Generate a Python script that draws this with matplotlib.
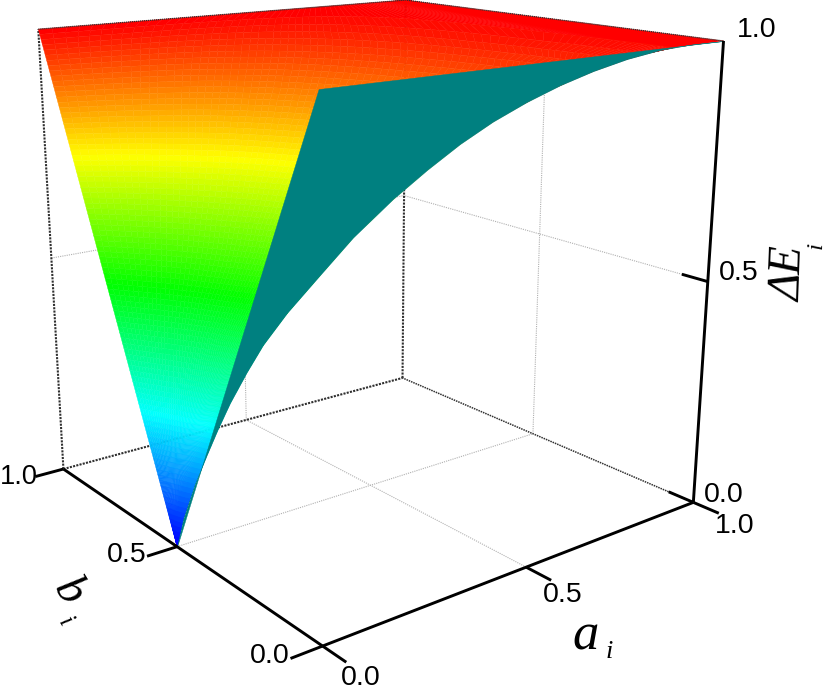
import numpy as np
import matplotlib
matplotlib.use("Agg")
import matplotlib.pyplot as plt
from matplotlib.colors import LinearSegmentedColormap
from mpl_toolkits.mplot3d.art3d import Poly3DCollection

W, H = 825, 691

# --- data: the crease of the surface
a_crease = [0.0, 0.013, 0.036, 0.059, 0.079, 0.103, 0.134, 0.164, 0.208, 0.267, 0.327,
            0.398, 0.459, 0.518, 0.577, 0.638, 0.698, 0.758, 0.82, 0.881, 0.942, 1.0]
b_crease = [0.5, 0.494, 0.482, 0.47, 0.46, 0.449, 0.433, 0.418, 0.396, 0.367, 0.337,
            0.301, 0.27, 0.241, 0.212, 0.181, 0.151, 0.121, 0.09, 0.06, 0.029, 0.0]
z_crease = [0.0, 0.06, 0.135, 0.197, 0.248, 0.303, 0.366, 0.421, 0.485, 0.558, 0.632,
            0.706, 0.762, 0.811, 0.853, 0.890, 0.921, 0.947, 0.969, 0.985, 0.995, 1.0]
tick_values = [0.0, 0.5, 1.0]
tick_labels = ["0.0", "0.5", "1.0"]
rainbow = ["#0000ff", "#00ffff", "#00ff00", "#ffff00", "#ff0000"]
teal = "#008080"
n_bands = 96

# --- camera: box points and where they appear (pixels)
cam_world = [(0, 0, 0), (1, 0, 0), (0, 1, 0), (1, 1, 0), (1, 0, 1), (0, 1, 1), (1, 1, 1),
             (0, 0.5, 0), (0.5, 0, 0), (1, 0, 0.5), (0, 0, 1)]
cam_pixel = [(323, 646), (693, 502), (63, 469), (403, 378), (724, 41), (39, 29), (405, 0),
             (177, 547), (526, 567), (708, 282), (318, 89)]

fig = plt.figure(figsize=(W / 100, H / 100), dpi=100)
ax = fig.add_axes([0, -(W - H) / 2 / H, 1, W / H], projection="3d", computed_zorder=False)
ax.set_axis_off()
ax.set_proj_type("ortho")
ax.apply_aspect()
fig.canvas.draw()
inv = ax.transData.inverted()


def fit_camera(world, pixel):
    uv = inv.transform([(p[0], H - p[1]) for p in pixel])
    rows, rhs = [], []
    for (x, y, z), (u, v) in zip(world, uv):
        rows.append([x, y, z, 1, 0, 0, 0, 0, -u * x, -u * y, -u * z])
        rhs.append(u)
        rows.append([0, 0, 0, 0, x, y, z, 1, -v * x, -v * y, -v * z])
        rhs.append(v)
    p = np.linalg.lstsq(np.array(rows), np.array(rhs), rcond=None)[0]
    P = np.append(p, 1.0).reshape(3, 4)
    return np.vstack([P[0], P[1], P[2] - [0, 0, 0, 1e-3], P[2]])


M = fit_camera(cam_world, cam_pixel)
ax.get_proj = lambda: M
ax.set_xlim(0, 1)
ax.set_ylim(0, 1)
ax.set_zlim(0, 1)

# --- box: grid lines and back edges
grid = dict(color="#b0b0b0", lw=0.8, ls=(0, (1, 1)), zorder=1)
back = dict(color="#303030", lw=1.5, ls=(0, (1, 0.6)), zorder=1)
m = tick_values[1]
ax.plot([m, m], [0, 1], [0, 0], **grid)
ax.plot([0, 1], [m, m], [0, 0], **grid)
ax.plot([m, m], [1, 1], [0, 1], **grid)
ax.plot([0, 1], [1, 1], [m, m], **grid)
ax.plot([1, 1], [m, m], [0, 1], **grid)
ax.plot([1, 1], [0, 1], [m, m], **grid)
ax.plot([0, 1], [1, 1], [0, 0], **back)
ax.plot([1, 1], [0, 1], [0, 0], **{**back, "lw": 1.1})
ax.plot([1, 1], [1, 1], [0, 1], **back)
ax.plot([0, 0], [1, 1], [0, 1], **back)

# --- surface seen from above: far side of the crease, meshed along its height bands
levels = np.linspace(0, 1, n_bands + 1)
u = 1 - (1 - np.linspace(0, 1, 90)) ** 3
A = np.outer(np.interp(levels, z_crease, a_crease), u)
Z = np.repeat(levels[:, None], len(u), axis=1)
bv = np.interp(A, a_crease, b_crease)
zv = np.interp(A, a_crease, z_crease)
span = 1 - zv
t = np.where(span > 1e-9, (Z - zv) / np.where(span > 1e-9, span, 1), 1.0)
t[:, -1] = 0.0
B = bv + np.clip(t, 0, 1) * (1 - bv)
cmap = LinearSegmentedColormap.from_list("rb", rainbow, N=n_bands)
surf = ax.plot_surface(A, B, Z, rstride=1, cstride=1, cmap=cmap, vmin=0, vmax=1,
                       linewidth=0.3, zorder=2)
surf.set_edgecolor("face")

# --- surface seen from below: near side of the crease
near = list(zip(a_crease, b_crease, z_crease)) + [(0, 0, 1)]
poly = Poly3DCollection([near], linewidth=0.3, zorder=3)
ax.add_collection3d(poly)
poly.set_facecolor(teal)
poly.set_edgecolor(teal)

# --- top back edges stay above the surface
ax.plot([0, 1], [1, 1], [1, 1], **{**back, "zorder": 4, "lw": 0.9})
ax.plot([1, 1], [0, 1], [1, 1], **{**back, "zorder": 4, "lw": 0.9})

# --- axes and ticks
axis = dict(color="black", lw=2.1, zorder=5, solid_capstyle="butt")
tick_len = 0.07
ax.plot([0, 1], [0, 0], [0, 0], **axis)
ax.plot([0, 0], [0, 1], [0, 0], **axis)
ax.plot([1, 1], [0, 0], [0, 1], **axis)
for t_ in tick_values:
    ax.plot([t_, t_], [0, -tick_len], [0, 0], **axis)
    ax.plot([0, -tick_len], [t_, t_], [0, 0], **axis)
    if t_ < 1:
        ax.plot([1, 1], [0, tick_len], [t_, t_], **axis)


def label(x, y, s, **kw):
    kw.setdefault("family", "Liberation Sans")
    kw.setdefault("fontsize", 20.5)
    kw.setdefault("va", "center")
    fig.text(x / W, 1 - y / H, s, **kw)


for (x, y), s, fs in zip([(290, 656), (147, 555), (38, 477)], tick_labels, [20.5, 20.5, 19.5]):
    label(x, y, s, ha="right", fontsize=fs)
for (x, y), s in zip([(361, 678), (563, 595), (735, 526)], tick_labels):
    label(x, y, s, ha="center")
for (x, y), s in zip([(704, 495), (719, 273), (737, 30)], tick_labels):
    label(x, y, s, ha="left")

serif = dict(family="Liberation Serif", style="italic", ha="center")
label(790, 274, "ΔE", fontsize=33, rotation=88, **serif)
label(816, 245, "i", fontsize=17, rotation=88, **serif)
label(586, 636, "a", fontsize=38, **serif)
label(609, 652, "i", fontsize=19, **serif)
label(68, 592, "b", fontsize=33, rotation=-58, **serif)
label(65, 622, "i", fontsize=18, rotation=-58, **serif)

fig.savefig("out.png", dpi=100)
